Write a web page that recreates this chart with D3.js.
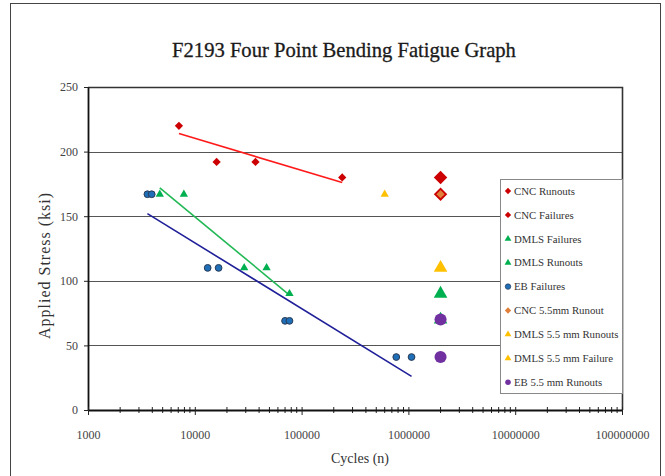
<!DOCTYPE html>
<html>
<head>
<meta charset="utf-8">
<script src="https://cdn.jsdelivr.net/npm/d3@7"></script>
<style>
  body { margin: 0; background: #fff; }
  text { font-family: "Liberation Serif", "Times New Roman", serif; }
</style>
</head>
<body>
<div id="chart"></div>
<script>
// values: [cycles, stress ksi]
var cncRunouts = [[2000000, 180], [2000000, 167]];
var cncFailures = [[7100, 220], [16000, 192], [37000, 192], [240000, 180]];
var dmlsFailures = [[4700, 167], [7900, 167], [29000, 110], [47000, 110], [77000, 90]];
var dmlsRunouts = [[2000000, 90], [2000000, 70]];
var ebFailures = [[3600, 167], [3950, 167], [13200, 110], [16700, 110], [70000, 69], [77000, 69], [770000, 41], [1070000, 41]];
var cnc55Runout = [[2000000, 167]];
var dmls55Runouts = [[2000000, 110]];
var dmls55Failure = [[600000, 167]];
var eb55Runouts = [[2000000, 70], [2000000, 41]];

// trend line end points as drawn in the picture
var cncTrend = [[7100, 214], [240000, 176]];
var dmlsTrend = [[4700, 172], [77000, 89]];
var ebTrend = [[3600, 152], [1070000, 26]];

var xTicks = [1000, 10000, 100000, 1000000, 10000000, 100000000];
var yTicks = [0, 50, 100, 150, 200, 250];

var W = 665, H = 476;
var pLeft = 88, pRight = 622, pTop = 87, pBottom = 410;

var svg = d3.select("#chart").append("svg").attr("width", W).attr("height", H);

// outer chart border
svg.append("rect").attr("x", 10.5).attr("y", 3.5).attr("width", 650).attr("height", 480)
  .attr("fill", "#fff").attr("stroke", "#444").attr("stroke-width", 1);

var x = d3.scaleLog().domain([1000, 100000000]).range([pLeft, pRight]);
var y = d3.scaleLinear().domain([0, 250]).range([pBottom, pTop]);

svg.append("text").attr("x", 344).attr("y", 57).attr("text-anchor", "middle")
  .attr("font-size", 20.6).attr("fill", "#1a1a1a").attr("stroke", "#1a1a1a").attr("stroke-width", 0.3)
  .text("F2193 Four Point Bending Fatigue Graph");

// gridlines
svg.append("g").selectAll("line").data(yTicks.filter(function(d){ return d > 0 && d < 250; }))
  .enter().append("line")
  .attr("x1", pLeft).attr("x2", pRight)
  .attr("y1", function(d){ return Math.round(y(d)) + 0.5; })
  .attr("y2", function(d){ return Math.round(y(d)) + 0.5; })
  .attr("stroke", "#555").attr("stroke-width", 1);

// plot frame (top / right)
svg.append("path")
  .attr("d", "M" + pLeft + "," + (pTop + 0.5) + "H" + (pRight + 0.5) + "V" + pBottom)
  .attr("fill", "none").attr("stroke", "#333").attr("stroke-width", 1.6);

// y axis
var yAxis = d3.axisLeft(y).tickValues(yTicks).tickSize(4).tickPadding(6).tickSizeOuter(0);
var gy = svg.append("g").attr("transform", "translate(" + pLeft + ",0)").call(yAxis);
gy.select(".domain").attr("stroke", "#111").attr("stroke-width", 1.8);
gy.selectAll(".tick line").attr("stroke", "#222");
gy.selectAll("text").attr("font-size", 12).attr("fill", "#444");

// x axis, minor ticks first
var minor = [];
for (var e = 3; e < 8; e++) {
  for (var m = 2; m < 10; m++) minor.push(m * Math.pow(10, e));
}
svg.append("g").selectAll("line").data(minor).enter().append("line")
  .attr("x1", function(d){ return x(d); }).attr("x2", function(d){ return x(d); })
  .attr("y1", pBottom - 3).attr("y2", pBottom + 3)
  .attr("stroke", "#222").attr("stroke-width", 1);

var xAxis = d3.axisBottom(x).tickValues(xTicks).tickFormat(d3.format("d"))
  .tickSize(5).tickPadding(15).tickSizeOuter(0);
var gx = svg.append("g").attr("transform", "translate(0," + pBottom + ")").call(xAxis);
gx.select(".domain").attr("stroke", "#111").attr("stroke-width", 1.8);
gx.selectAll(".tick line").attr("y1", -3).attr("stroke", "#222");
gx.selectAll("text").attr("font-size", 12).attr("fill", "#444");

// axis titles
svg.append("text").attr("x", 360).attr("y", 463).attr("text-anchor", "middle")
  .attr("font-size", 14).attr("fill", "#333").text("Cycles (n)");
svg.append("text").attr("transform", "translate(50,266) rotate(-90)").attr("text-anchor", "middle")
  .attr("font-size", 16).attr("fill", "#333")
  .attr("textLength", 146).attr("lengthAdjust", "spacing")
  .text("Applied Stress (ksi)");

// trend lines
var line = d3.line().x(function(d){ return x(d[0]); }).y(function(d){ return y(d[1]); });
function trend(data, color) {
  svg.append("path").datum(data).attr("d", line)
    .attr("fill", "none").attr("stroke", color).attr("stroke-width", 1.6);
}

function symbolPath(type, size) {
  var t = type === "diamond" ? d3.symbolSquare : type === "triangle" ? d3.symbolTriangle : d3.symbolCircle;
  return d3.symbol().type(t).size(size)();
}

function markers(data, type, size, fill, stroke) {
  svg.append("g").selectAll("path").data(data).enter().append("path")
    .attr("d", symbolPath(type, size))
    .attr("transform", function(d){
      return "translate(" + x(d[0]) + "," + y(d[1]) + ")" + (type === "diamond" ? " rotate(45)" : "");
    })
    .attr("fill", fill)
    .attr("stroke", stroke || "none").attr("stroke-width", stroke ? 1 : 0);
}

var series = [
  { name: "CNC Runouts", data: cncRunouts, type: "diamond", size: 90, fill: "#CC0000" },
  { name: "CNC Failures", data: cncFailures, type: "diamond", size: 34, fill: "#CC0000", trend: cncTrend, tcol: "#FF1a1a" },
  { name: "DMLS Failures", data: dmlsFailures, type: "triangle", size: 30, fill: "#00B050", trend: dmlsTrend, tcol: "#22B855" },
  { name: "DMLS Runouts", data: dmlsRunouts, type: "triangle", size: 80, fill: "#00B050" },
  { name: "EB Failures", data: ebFailures, type: "circle", size: 36, fill: "#1F6FB8", stroke: "#2a3a55", trend: ebTrend, tcol: "#1F1F99" },
  { name: "CNC 5.5mm Runout", data: cnc55Runout, type: "diamond", size: 34, fill: "#E0803A" },
  { name: "DMLS 5.5 mm Runouts", data: dmls55Runouts, type: "triangle", size: 80, fill: "#FFC000" },
  { name: "DMLS 5.5 mm Failure", data: dmls55Failure, type: "triangle", size: 30, fill: "#FFC000" },
  { name: "EB 5.5 mm Runouts", data: eb55Runouts, type: "circle", size: 115, fill: "#7030A0" }
];

series.forEach(function(s){
  if (s.trend) trend(s.trend, s.tcol);
  markers(s.data, s.type, s.size, s.fill, s.stroke);
});

// legend
var lg = svg.append("g");
lg.append("rect").attr("x", 500.5).attr("y", 179.5).attr("width", 122).attr("height", 214)
  .attr("fill", "#fff").attr("stroke", "#888").attr("stroke-width", 1);
var items = lg.selectAll("g").data(series).enter().append("g")
  .attr("transform", function(d, i){ return "translate(508," + (191 + i * 23.9) + ")"; });
items.append("path")
  .attr("d", function(d){ return symbolPath(d.type, d.type === "circle" ? 24 : 20); })
  .attr("transform", function(d){ return d.type === "diamond" ? "rotate(45)" : null; })
  .attr("fill", function(d){ return d.fill; })
  .attr("stroke", function(d){ return d.stroke || "none"; }).attr("stroke-width", 0.7);
items.append("text").attr("x", 6).attr("dy", "0.35em")
  .attr("font-size", 10.8).attr("fill", "#333")
  .text(function(d){ return d.name; });
</script>
</body>
</html>
